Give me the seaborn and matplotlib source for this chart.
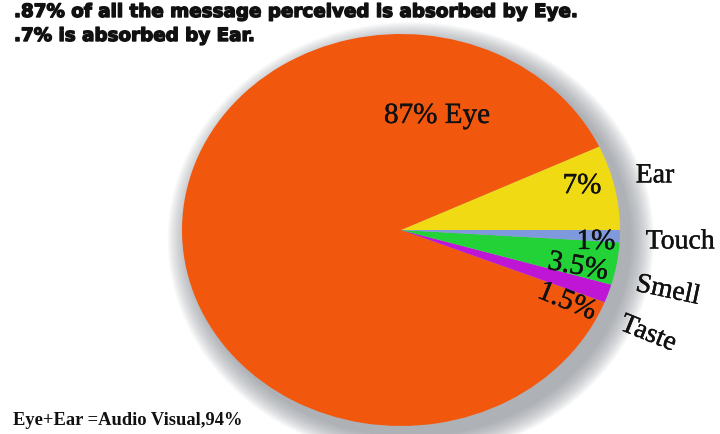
import matplotlib
matplotlib.use("Agg")
import matplotlib.pyplot as plt
import matplotlib.patheffects as pe
import seaborn as sns
from matplotlib.patches import Ellipse

sns.set_theme(style="white")
plt.rcParams['font.family'] = ['Liberation Serif', 'DejaVu Serif']

# ---- data (counter-clockwise from 3 o'clock) ----
senses = ["Ear", "Eye", "Taste", "Smell", "Touch"]
shares = [7, 87, 1.5, 3.5, 1]
pct_text = ["7%", "87% Eye", "1.5%", "3.5%", "1%"]
outer_text = ["Ear", "", "Taste", "Smell", "Touch"]
colors = ["#F0DA14", "#F2570E", "#BE16D4", "#22D236", "#7F9ADC"]

title_lines = [".87% of all the message perceived is absorbed by Eye.",
               ".7% is absorbed by Ear."]
footnote = "Eye+Ear =Audio Visual,94%"

# ---- layout (label placement, data coords of the unit pie) ----
pct_pos = [(0.826, 0.224), (0.164, 0.582), (0.758, -0.367), (0.808, -0.189), (0.89, -0.061)]
pct_rot = [0, 0, -22, -10, 0]
out_pos = [(1.16, 0.276), None, (1.128, -0.531), (1.219, -0.311), (1.274, -0.061)]
out_rot = [0, 0, -22, -12, 0]

fig = plt.figure(figsize=(7.2, 4.35), dpi=100)
fig.patch.set_facecolor("white")
ax = fig.add_axes([182 / 720, 8 / 435, 438 / 720, 392 / 435])

# soft shadow
n = 18
for i in range(n):
    s = 1.0 + 0.11 * (i + 1) / n
    ax.add_patch(Ellipse((0.045, -0.05), 2 * s, 2 * s, facecolor="#8a8f96",
                         edgecolor="none", alpha=0.055, zorder=0, clip_on=False))

wedges, _ = ax.pie(shares, colors=colors, startangle=0, counterclock=True,
                   wedgeprops=dict(linewidth=0, zorder=2))
for w in wedges:
    w.set_zorder(2)
ax.set_aspect("auto")
ax.set_xlim(-1, 1)
ax.set_ylim(-1, 1)
ax.axis("off")

thick = [pe.withStroke(linewidth=0.3, foreground="#111111")]
for (x, y), t, r in zip(pct_pos, pct_text, pct_rot):
    ax.text(x, y, t, fontsize=21, ha="center", va="center", rotation=r,
            color="#111111", zorder=5, path_effects=thick)
for p, t, r in zip(out_pos, outer_text, out_rot):
    if p is None:
        continue
    ax.text(p[0], p[1], t, fontsize=20, ha="center", va="center", rotation=r,
            color="#111111", zorder=5, clip_on=False, path_effects=thick)

heavy = [pe.withStroke(linewidth=1.0, foreground="#111111")]
fig.text(14 / 720, 1 - 13 / 435, title_lines[0], fontsize=13.2, fontweight="bold",
         family=["DejaVu Sans"], ha="left", va="center", color="#111111",
         path_effects=heavy)
fig.text(14 / 720, 1 - 37 / 435, title_lines[1], fontsize=13.2, fontweight="bold",
         family=["DejaVu Sans"], ha="left", va="center", color="#111111",
         path_effects=heavy)
fig.text(13 / 720, 1 - 421 / 435, footnote, fontsize=13.3, fontweight="bold",
         ha="left", va="center", color="#111111")

fig.savefig("out.png", dpi=100, facecolor="white")
